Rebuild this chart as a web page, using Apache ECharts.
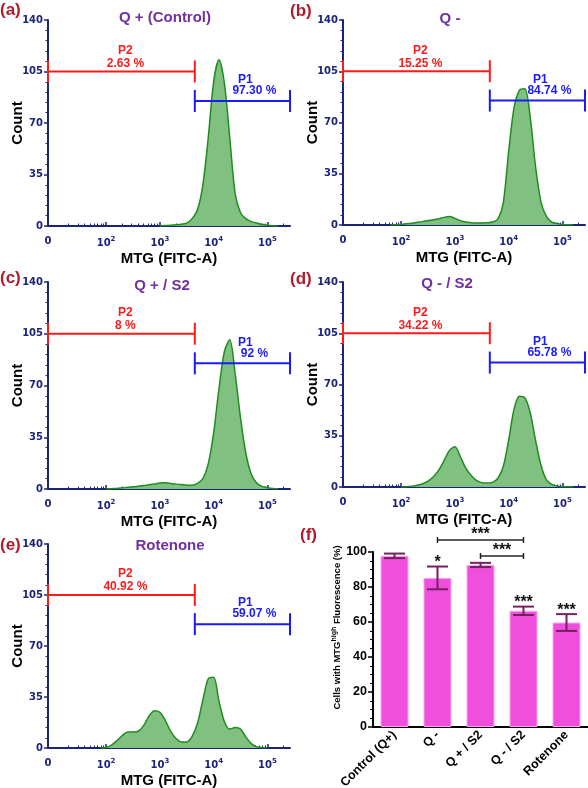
<!DOCTYPE html>
<html><head><meta charset="utf-8">
<script src="https://cdn.jsdelivr.net/npm/echarts@6/dist/echarts.min.js"></script>
<style>html,body{margin:0;padding:0;background:#fff}#c{width:588px;height:788px}</style>
</head><body><div id="c"></div>
<script>
// ---------- data ----------
// histogram bin positions on the display (log10) axis
const binLog = [1.8,1.9,2.0,2.1,2.2,2.3,2.4,2.5,2.6,2.7,2.8,2.9,3.0,3.1,3.2,3.3,3.4,3.5,3.6,3.7,3.8,3.9,4.0,4.1,4.2,4.3,4.4,4.5,4.6,4.7,4.8,4.9,5.0,5.1,5.2];
const countA = [0,0,0,0,0,0,0,0,0,0,0,0,0,0.3,0.5,0.8,1.2,2,5,11,28,60,98,113,97,60,22,9,5,3,2,1,0.5,0.2,0];
const countB = [0,0.2,0.5,0.8,1.2,1.8,2.3,3,3.6,4.3,5.2,5.8,4.5,3,2,1.6,1.4,1.4,1.5,2,4,15,50,80,92,93,74,40,16,6,2,1,0.4,0.1,0];
const countC = [0,0,0,0.2,0.4,0.8,1.2,1.5,1.8,2.3,2.8,3.4,4,4.2,3.8,3.3,3,2.6,2.6,3.8,7,17,38,68,93,101,78,48,24,10,4,1.8,0.9,0.3,0];
const countD = [0,0,0,0.2,0.6,1.2,2.2,4,7,11.5,18,25,27.5,21,13,8,4.5,3,2.7,3.2,6,14,32,53,62,61,51,32,15,5,1.8,0.7,0.3,0.1,0];
const countE = [0,0,0.5,2,5,8.5,11,11,11.5,15.5,22,25.5,24.5,19,11.5,6.5,4.2,4.2,8,17,33,47.5,48.5,32,18,13,14,13,7.5,3,0.8,0.3,0,0,0];
const histCounts = [countA, countB, countC, countD, countE];

const panelTitles = ['Q + (Control)', 'Q -', 'Q + / S2', 'Q - / S2', 'Rotenone'];
const panelLetters = ['(a)', '(b)', '(c)', '(d)', '(e)', '(f)'];
const p2Labels = ['2.63 %', '15.25 %', '8 %', '34.22 %', '40.92 %'];
const p1Labels = ['97.30 %', '84.74 %', '92 %', '65.78 %', '59.07 %'];

const xAxisMin = 0.92, xAxisMax = 5.42;
const gateP2 = [0.92, 3.65], gateP1 = [3.65, 5.42];
const gateP2Count = 105, gateP1Count = 85;

const xMajorValues = [0.92, 2, 3, 4, 5];
const xMajorLabels = ['0', '10^2', '10^3', '10^4', '10^5'];
const yTickValues = [0, 35, 70, 105, 140];

const barCategories = ['Control (Q+)', 'Q -', 'Q + / S2', 'Q - / S2', 'Rotenone'];
const barMeans = [97.8, 85.2, 92.6, 66.4, 59.7];
const barErrors = [1.3, 6.5, 1.2, 2.4, 4.8];
const barStars = ['', '*', '', '***', '***'];
const brackets = [[1, 3, 106.9], [2, 3, 97.7]];
const bracketStars = ['***', '***'];

// ---------- style / layout ----------
const NAVY = '#1c2478';
const RED = '#ff1a1a', BLUE = '#1a1aff';
const PURPLE = '#7030a0', LETTER = '#b01a2a';
const SANS = '"Liberation Sans", Arial, sans-serif';
const VERD = '"DejaVu Sans", Verdana, sans-serif';
const histGrids = [
  {left: 48, top: 20, width: 242, height: 206},
  {left: 343, top: 20, width: 242, height: 205},
  {left: 48, top: 282, width: 242, height: 207},
  {left: 343, top: 282, width: 242, height: 205},
  {left: 48, top: 544, width: 242, height: 204}
];
const barGrid = {left: 373, top: 552, width: 215, height: 175};
const titlePos = [[165, 18], [450, 19], [162, 286], [447, 284], [170, 546]];
const letterPos = [[0, 10], [290, 11], [0, 278], [290, 279], [0, 545], [300, 535]];

const xMinorValues = [];
for (let k = 1; k <= 5; k++) for (let m = 2; m <= 9; m++) {
  const v = k + Math.log10(m);
  if (v > 1.0 && v < xAxisMax) xMinorValues.push(v);
}

function xLabelFmt(v) {
  let idx = 0, best = 1e9;
  xMajorValues.forEach((t, i) => { if (Math.abs(t - v) < best) { best = Math.abs(t - v); idx = i; } });
  const s = xMajorLabels[idx];
  if (s.indexOf('^') < 0) return '{b|' + s + '}';
  const p = s.split('^');
  return '{b|' + p[0] + '}{s|' + p[1] + '}';
}

function gateRender(panel) {
  return function (params, api) {
    const x0 = api.value(0), x1 = api.value(1), y = api.value(2), kind = api.value(3);
    const a = api.coord([x0, y]), b = api.coord([x1, y]);
    const col = kind === 0 ? RED : BLUE;
    const cap = 11;
    const cx = (a[0] + b[0]) / 2;
    const head = kind === 0 ? 'P2' : 'P1';
    const pct = kind === 0 ? p2Labels[panel] : p1Labels[panel];
    const dxHead = kind === 0 ? 4 : 3;
    const dxPct = kind === 0 ? 4 : 12;
    const font = 'bold 12px ' + SANS;
    return {type: 'group', children: [
      {type: 'line', shape: {x1: a[0], y1: a[1], x2: b[0], y2: b[1]}, style: {stroke: col, lineWidth: 2}},
      {type: 'line', shape: {x1: a[0], y1: a[1] - cap, x2: a[0], y2: a[1] + cap}, style: {stroke: col, lineWidth: 2}},
      {type: 'line', shape: {x1: b[0], y1: b[1] - cap, x2: b[0], y2: b[1] + cap}, style: {stroke: col, lineWidth: 2}},
      {type: 'text', style: {text: head, x: cx + dxHead, y: a[1] - 21, fill: col, font: font, align: 'center', verticalAlign: 'middle'}},
      {type: 'text', style: {text: pct, x: cx + dxPct, y: a[1] - (kind === 0 ? 8 : 10), fill: col, font: font, align: 'center', verticalAlign: 'middle'}}
    ]};
  };
}

const grids = [], xAxes = [], yAxes = [], series = [], graphics = [];
histGrids.forEach((g, i) => {
  grids.push(Object.assign({outerBoundsMode: 'none', containLabel: false}, g));
  xAxes.push({
    type: 'value', gridIndex: i, min: xAxisMin, max: xAxisMax, position: 'bottom',
    axisLine: {show: true, onZero: false, lineStyle: {color: NAVY, width: 2}},
    axisTick: {show: true, inside: true, length: 4, customValues: xMajorValues, lineStyle: {color: NAVY, width: 1.5}},
    axisLabel: {
      customValues: xMajorValues, formatter: xLabelFmt, margin: 10,
      rich: {
        b: {color: NAVY, fontFamily: VERD, fontWeight: 'bold', fontSize: 10},
        s: {color: NAVY, fontFamily: VERD, fontWeight: 'bold', fontSize: 7, padding: [0, 0, 7, 0]}
      }
    },
    splitLine: {show: false},
    name: 'MTG (FITC-A)', nameLocation: 'middle', nameGap: 25, nameMoveOverlap: false,
    nameTextStyle: {color: '#000', fontFamily: SANS, fontWeight: 'bold', fontSize: 15}
  });
  xAxes.push({
    type: 'value', gridIndex: i, min: xAxisMin, max: xAxisMax, position: 'bottom',
    axisLine: {show: false},
    axisTick: {show: true, inside: true, length: 2.5, customValues: xMinorValues, lineStyle: {color: NAVY, width: 1}},
    axisLabel: {show: false}, splitLine: {show: false}
  });
  yAxes.push({
    type: 'value', gridIndex: i, min: 0, max: 140, interval: 35,
    axisLine: {show: true, lineStyle: {color: NAVY, width: 2}},
    axisTick: {show: true, length: 4, lineStyle: {color: NAVY, width: 1.5}},
    minorTick: {show: true, splitNumber: 5, length: 2.5, lineStyle: {color: NAVY, width: 1}},
    axisLabel: {color: NAVY, fontFamily: VERD, fontWeight: 'bold', fontSize: 10, margin: 5},
    splitLine: {show: false},
    name: 'Count', nameLocation: 'middle', nameRotate: 90, nameGap: 23, nameMoveOverlap: false,
    nameTextStyle: {color: '#000', fontFamily: SANS, fontWeight: 'bold', fontSize: 15}
  });
  const counts = histCounts[i];
  let first = counts.findIndex(c => c > 0), last = counts.length - 1;
  while (last > 0 && counts[last] === 0) last--;
  first = Math.max(0, first - 1); last = Math.min(counts.length - 1, last + 1);
  const pts = [];
  for (let k = first; k <= last; k++) pts.push([binLog[k], counts[k]]);
  series.push({
    type: 'line', xAxisIndex: 2 * i, yAxisIndex: i, data: pts, smooth: 0.3, showSymbol: false,
    lineStyle: {color: '#1f8c1f', width: 1.5}, areaStyle: {color: '#80c080', opacity: 1}, silent: true, z: 2
  });
  series.push({
    type: 'custom', xAxisIndex: 2 * i, yAxisIndex: i, clip: false, silent: true, z: 5,
    encode: {x: [0, 1], y: 2},
    data: [[gateP2[0], gateP2[1], gateP2Count, 0], [gateP1[0], gateP1[1], gateP1Count, 1]],
    renderItem: gateRender(i)
  });
  graphics.push({type: 'text', style: {
    text: panelTitles[i], x: titlePos[i][0], y: titlePos[i][1], fill: PURPLE,
    font: 'bold 15px ' + SANS, align: 'center', verticalAlign: 'middle'}});
});

letterPos.forEach((p, i) => {
  graphics.push({type: 'text', style: {text: panelLetters[i], x: p[0], y: p[1], fill: LETTER,
    font: 'bold 17px ' + SANS, align: 'left', verticalAlign: 'middle'}});
});

// ---------- bar chart (f) ----------
grids.push(Object.assign({outerBoundsMode: 'none', containLabel: false}, barGrid));
const bxi = xAxes.length, byi = yAxes.length;
xAxes.push({
  type: 'category', gridIndex: 5, data: barCategories, position: 'bottom',
  axisLine: {show: true, lineStyle: {color: '#000', width: 2}},
  axisTick: {show: false},
  axisLabel: {rotate: 45, interval: 0, color: '#000', fontFamily: SANS, fontWeight: 'bold', fontSize: 12.5, margin: 6}
});
yAxes.push({
  type: 'value', gridIndex: 5, min: 0, max: 100, interval: 20,
  axisLine: {show: true, lineStyle: {color: '#000', width: 2}},
  axisTick: {show: true, length: 5, lineStyle: {color: '#000', width: 1.5}},
  minorTick: {show: true, splitNumber: 4, length: 3, lineStyle: {color: '#000', width: 1}},
  axisLabel: {color: '#000', fontFamily: SANS, fontWeight: 'bold', fontSize: 12.5, margin: 6},
  splitLine: {show: false},
  name: '{p|}{a|Cells with MTG}{s|high}{a| Fluorescence (%)}', nameLocation: 'middle', nameRotate: 90, nameGap: 29,
  nameMoveOverlap: false,
  nameTextStyle: {rich: {
    p: {width: 24},
    a: {color: '#000', fontFamily: SANS, fontWeight: 'bold', fontSize: 9.5},
    s: {color: '#000', fontFamily: SANS, fontWeight: 'bold', fontSize: 7, padding: [0, 0, 6, 0]}
  }}
});
series.push({
  type: 'bar', xAxisIndex: bxi, yAxisIndex: byi, data: barMeans, barWidth: 28,
  itemStyle: {color: '#f04fde', borderColor: '#f8a4f0', borderWidth: 1}, silent: true
});
const ERR = '#76205f';
series.push({
  type: 'custom', xAxisIndex: bxi, yAxisIndex: byi, clip: false, silent: true, z: 5,
  encode: {x: 0, y: 1},
  data: barMeans.map((m, i) => [i, m, barErrors[i]]),
  renderItem: function (params, api) {
    const i = api.value(0), m = api.value(1), e = api.value(2);
    const top = api.coord([i, m + e]), bot = api.coord([i, m - e]);
    const hw = 10.5;
    const ch = [
      {type: 'line', shape: {x1: top[0], y1: top[1], x2: bot[0], y2: bot[1]}, style: {stroke: ERR, lineWidth: 2}},
      {type: 'line', shape: {x1: top[0] - hw, y1: top[1], x2: top[0] + hw, y2: top[1]}, style: {stroke: ERR, lineWidth: 2}},
      {type: 'line', shape: {x1: bot[0] - hw, y1: bot[1], x2: bot[0] + hw, y2: bot[1]}, style: {stroke: ERR, lineWidth: 2}}
    ];
    if (barStars[i]) ch.push({type: 'text', style: {text: barStars[i], x: top[0], y: top[1] + 4,
      fill: '#111', font: 'bold 16px ' + SANS, align: 'center', verticalAlign: 'bottom'}});
    return {type: 'group', children: ch};
  }
});
series.push({
  type: 'custom', xAxisIndex: bxi, yAxisIndex: byi, clip: false, silent: true, z: 5,
  encode: {x: [0, 1], y: 2},
  data: brackets,
  renderItem: function (params, api) {
    const a = api.coord([api.value(0), api.value(2)]), b = api.coord([api.value(1), api.value(2)]);
    return {type: 'group', children: [
      {type: 'line', shape: {x1: a[0], y1: a[1], x2: b[0], y2: b[1]}, style: {stroke: '#222', lineWidth: 1.5}},
      {type: 'line', shape: {x1: a[0], y1: a[1] - 3, x2: a[0], y2: a[1] + 3}, style: {stroke: '#222', lineWidth: 1.5}},
      {type: 'line', shape: {x1: b[0], y1: b[1] - 3, x2: b[0], y2: b[1] + 3}, style: {stroke: '#222', lineWidth: 1.5}},
      {type: 'text', style: {text: bracketStars[params.dataIndex], x: (a[0] + b[0]) / 2, y: a[1] + 3,
        fill: '#111', font: 'bold 16px ' + SANS, align: 'center', verticalAlign: 'bottom'}}
    ]};
  }
});

const chart = echarts.init(document.getElementById('c'), null, {renderer: 'canvas'});
chart.setOption({
  backgroundColor: '#fff', animation: false,
  grid: grids, xAxis: xAxes, yAxis: yAxes, series: series, graphic: graphics
});
</script></body></html>
